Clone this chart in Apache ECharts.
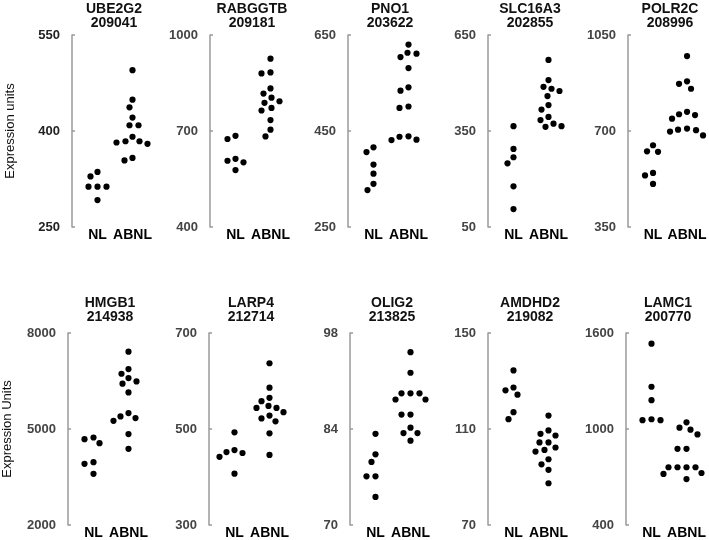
<!DOCTYPE html>
<html>
<head>
<meta charset="utf-8">
<script src="https://cdn.jsdelivr.net/npm/echarts@6/dist/echarts.min.js"></script>
<style>
html,body{margin:0;padding:0;background:#fff;}
#chart{width:709px;height:540px;}
</style>
</head>
<body>
<div id="chart"></div>
<script>
// ---- Data ----
const categories = ['NL', 'ABNL'];
const genes = ['UBE2G2', 'RABGGTB', 'PNO1', 'SLC16A3', 'POLR2C', 'HMGB1', 'LARP4', 'OLIG2', 'AMDHD2', 'LAMC1'];
const probeIds = ['209041', '209181', '203622', '202855', '208996', '214938', '212714', '213825', '219082', '200770'];
const yMin = [250, 400, 250, 50, 350, 2000, 300, 70, 70, 400];
const yMax = [550, 1000, 650, 650, 1050, 8000, 700, 98, 150, 1600];
const yStep = [150, 300, 200, 300, 350, 3000, 200, 14, 40, 600];
const yTitles = ['Expression units', 'Expression Units'];

const UBE2G2_NL = [336, 329, 313, 313, 313, 292];
const UBE2G2_ABNL = [495, 449, 437, 421, 409, 409, 391, 382, 380, 384, 384, 354, 358];
const RABGGTB_NL = [685, 675, 602, 607, 613, 578];
const RABGGTB_ABNL = [926, 880, 883, 833, 817, 804, 793, 788, 772, 764, 734, 704, 683];
const PNO1_NL = [416, 406, 380, 361, 340, 327];
const PNO1_ABNL = [630, 613, 604, 611, 581, 541, 534, 501, 498, 431, 439, 432, 438];
const SLC16A3_NL = [365, 294, 268, 249, 177, 106];
const SLC16A3_ABNL = [572, 509, 482, 488, 475, 459, 431, 417, 384, 394, 365, 373, 363];
const POLR2C_NL = [624, 626, 648, 538, 547, 507];
const POLR2C_ABNL = [973, 881, 872, 854, 770, 761, 758, 745, 709, 698, 684, 703, 705];
const HMGB1_NL = [4683, 4735, 4558, 3963, 3911, 3598];
const HMGB1_ABNL = [7416, 6874, 6727, 6592, 6488, 6415, 6143, 5497, 5392, 5257, 5340, 4840, 4381];
const LARP4_NL = [493, 450, 452, 456, 442, 407];
const LARP4_ABNL = [637, 586, 565, 558, 544, 544, 548, 535, 522, 528, 516, 491, 446];
const OLIG2_NL = [83.3, 80.3, 79.2, 77.1, 77.1, 74.1];
const OLIG2_ABNL = [95.2, 92.2, 89.2, 89.2, 89.2, 88.3, 88.3, 86.1, 86.1, 84.2, 83.4, 83.4, 82.3];
const AMDHD2_NL = [134.4, 126.1, 127.3, 124.3, 117.0, 114.1];
const AMDHD2_ABNL = [115.6, 108.0, 109.4, 107.3, 104.4, 104.4, 102.3, 101.3, 100.6, 97.4, 95.3, 93.0, 87.4];
const LAMC1_NL = [1533, 1264, 1180, 1055, 1055, 1061];
const LAMC1_ABNL = [1042, 1008, 996, 966, 876, 876, 761, 761, 761, 761, 719, 725, 687];

const nlSets = [UBE2G2_NL, RABGGTB_NL, PNO1_NL, SLC16A3_NL, POLR2C_NL, HMGB1_NL, LARP4_NL, OLIG2_NL, AMDHD2_NL, LAMC1_NL];
const abnlSets = [UBE2G2_ABNL, RABGGTB_ABNL, PNO1_ABNL, SLC16A3_ABNL, POLR2C_ABNL, HMGB1_ABNL, LARP4_ABNL, OLIG2_ABNL, AMDHD2_ABNL, LAMC1_ABNL];

// ---- Layout ----
const axisXs = [72, 210, 348, 488, 628, 68, 209, 350, 488, 626];
const rowTop = [35, 333];
const plotH = 192;
const plotW = 70;
const gridShift = 8;
const dotSize = 6.2;
const FONT = 'Liberation Sans, Arial, sans-serif';

// simple beeswarm: pixel x offsets so dots do not overlap
function swarm(values, min, max) {
  const py = values.map(v => plotH * (1 - (v - min) / (max - min)));
  const order = values.map((v, i) => i).sort((a, b) => values[b] - values[a]);
  const placed = [];
  const offs = new Array(values.length).fill(0);
  const d = dotSize + 2;
  order.forEach(i => {
    for (let k = 0; k < 80; k++) {
      const x = (k % 2 === 0 ? 1 : -1) * Math.ceil(k / 2);
      let ok = true;
      for (const p of placed) {
        const dx = x - p.x, dy = py[i] - p.y;
        if (dx * dx + dy * dy < d * d) { ok = false; break; }
      }
      if (ok) { offs[i] = x; placed.push({ x: x, y: py[i] }); break; }
    }
  });
  return offs;
}

const grids = [], xAxes = [], yAxes = [], series = [], titles = [];
genes.forEach((g, i) => {
  const row = i < 5 ? 0 : 1;
  const ax = axisXs[i];
  grids.push({ left: ax + gridShift, top: rowTop[row], width: plotW, height: plotH });
  xAxes.push({
    gridIndex: i, type: 'category', data: categories, boundaryGap: true,
    axisLine: { show: false }, axisTick: { show: false },
    axisLabel: { color: '#000', fontFamily: FONT, fontSize: 14, fontWeight: 'bold', margin: 1, interval: 0 }
  });
  yAxes.push({
    gridIndex: i, type: 'value', min: yMin[i], max: yMax[i], interval: yStep[i],
    offset: gridShift,
    axisLine: { show: true, lineStyle: { color: '#9a9a9a', width: 1.5 } },
    axisTick: { show: true, inside: true, length: 3, lineStyle: { color: '#9a9a9a', width: 1.5 } },
    splitLine: { show: false },
    axisLabel: { color: i === 0 ? '#222' : '#444', fontFamily: FONT, fontSize: 13, fontWeight: 'bold', margin: 12,
      formatter: v => String(v) },
    name: (i === 0 || i === 5) ? yTitles[row] : '',
    nameLocation: 'middle', nameGap: row === 0 ? 55 : 54,
    nameTextStyle: { color: '#111', fontFamily: FONT, fontSize: 13 }
  });
  [nlSets[i], abnlSets[i]].forEach((vals, c) => {
    const offs = swarm(vals, yMin[i], yMax[i]);
    series.push({
      type: 'scatter', xAxisIndex: i, yAxisIndex: i,
      symbolSize: dotSize, itemStyle: { color: '#000', opacity: 1 },
      data: vals.map((v, j) => ({ value: [c, v], symbolOffset: [offs[j], 0] })),
      animation: false
    });
  });
  titles.push({
    text: g + '\n' + probeIds[i],
    left: ax + 37, top: row === 0 ? -3 : 291, textAlign: 'center',
    textStyle: { color: '#111', fontFamily: FONT, fontSize: 14, fontWeight: 'bold', lineHeight: 14 }
  });
});

const chart = echarts.init(document.getElementById('chart'), null, { renderer: 'canvas' });
chart.setOption({
  backgroundColor: '#fff',
  animation: false,
  title: titles,
  grid: grids,
  xAxis: xAxes,
  yAxis: yAxes,
  series: series
});
</script>
</body>
</html>
